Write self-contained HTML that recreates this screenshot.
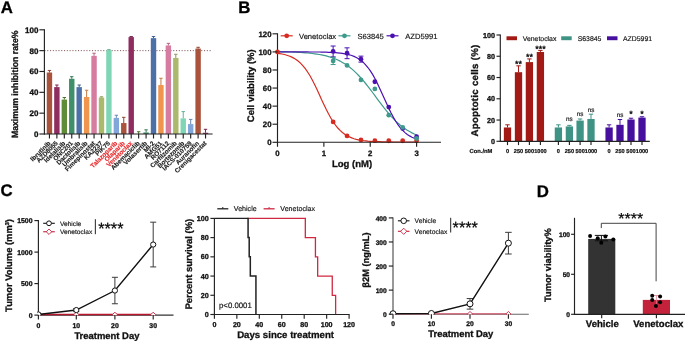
<!DOCTYPE html>
<html lang="en">
<head>
<meta charset="utf-8">
<title>Figure</title>
<style>
html,body{margin:0;padding:0;background:#fff;}
body{width:685px;height:342px;overflow:hidden;}
svg{display:block;font-family:"Liberation Sans",Arial,sans-serif;text-rendering:geometricPrecision;}
</style>
</head>
<body>
<svg width="685" height="342" viewBox="0 0 685 342">
<rect x="0" y="0" width="685" height="342" fill="#ffffff"/>
<text x="0.70" y="12.80" font-size="16.8" font-weight="bold" text-anchor="start" fill="#000" stroke="#000" stroke-width="0.3" >A</text>
<text x="238.30" y="12.60" font-size="16.8" font-weight="bold" text-anchor="start" fill="#000" stroke="#000" stroke-width="0.3" >B</text>
<text x="0.50" y="195.90" font-size="16.8" font-weight="bold" text-anchor="start" fill="#000" stroke="#000" stroke-width="0.3" >C</text>
<text x="536.70" y="196.60" font-size="16.8" font-weight="bold" text-anchor="start" fill="#000" stroke="#000" stroke-width="0.3" >D</text>
<line x1="44.40" y1="50.64" x2="211.00" y2="50.64" stroke="#6e3a3e" stroke-width="0.85" stroke-dasharray="1.1 1.7"/>
<rect x="46.75" y="72.52" width="5.40" height="61.48" fill="#A9523C" />
<line x1="49.45" y1="70.44" x2="49.45" y2="72.52" stroke="#8a4331" stroke-width="1.0" />
<line x1="47.75" y1="70.44" x2="51.15" y2="70.44" stroke="#8a4331" stroke-width="1.0" />
<line x1="49.45" y1="134.00" x2="49.45" y2="138.50" stroke="#222" stroke-width="1.15" />
<text transform="translate(50.95 143.70) rotate(-45)" font-size="6.4" font-weight="bold" text-anchor="end" fill="#1a1a1a" stroke="#1a1a1a" stroke-width="0.12" >Ibrutinib</text>
<rect x="54.18" y="87.11" width="5.40" height="46.89" fill="#8F2D60" />
<line x1="56.88" y1="85.03" x2="56.88" y2="87.11" stroke="#75244e" stroke-width="1.0" />
<line x1="55.18" y1="85.03" x2="58.58" y2="85.03" stroke="#75244e" stroke-width="1.0" />
<line x1="56.88" y1="134.00" x2="56.88" y2="138.50" stroke="#222" stroke-width="1.15" />
<text transform="translate(58.38 143.70) rotate(-45)" font-size="6.4" font-weight="bold" text-anchor="end" fill="#1a1a1a" stroke="#1a1a1a" stroke-width="0.12" >AZD8055</text>
<rect x="61.62" y="99.61" width="5.40" height="34.39" fill="#5F8C38" />
<line x1="64.32" y1="97.53" x2="64.32" y2="99.61" stroke="#4d722d" stroke-width="1.0" />
<line x1="62.62" y1="97.53" x2="66.02" y2="97.53" stroke="#4d722d" stroke-width="1.0" />
<line x1="64.32" y1="134.00" x2="64.32" y2="138.50" stroke="#222" stroke-width="1.15" />
<text transform="translate(65.82 143.70) rotate(-45)" font-size="6.4" font-weight="bold" text-anchor="end" fill="#1a1a1a" stroke="#1a1a1a" stroke-width="0.12" >Idelalisib</text>
<rect x="69.05" y="78.77" width="5.40" height="55.23" fill="#3F8F6B" />
<line x1="71.75" y1="76.69" x2="71.75" y2="78.77" stroke="#337557" stroke-width="1.0" />
<line x1="70.05" y1="76.69" x2="73.45" y2="76.69" stroke="#337557" stroke-width="1.0" />
<line x1="71.75" y1="134.00" x2="71.75" y2="138.50" stroke="#222" stroke-width="1.15" />
<text transform="translate(73.25 143.70) rotate(-45)" font-size="6.4" font-weight="bold" text-anchor="end" fill="#1a1a1a" stroke="#1a1a1a" stroke-width="0.12" >ONC201</text>
<rect x="76.48" y="87.11" width="5.40" height="46.89" fill="#4C70A8" />
<line x1="79.18" y1="85.03" x2="79.18" y2="87.11" stroke="#3e5b89" stroke-width="1.0" />
<line x1="77.48" y1="85.03" x2="80.88" y2="85.03" stroke="#3e5b89" stroke-width="1.0" />
<line x1="79.18" y1="134.00" x2="79.18" y2="138.50" stroke="#222" stroke-width="1.15" />
<text transform="translate(80.68 143.70) rotate(-45)" font-size="6.4" font-weight="bold" text-anchor="end" fill="#1a1a1a" stroke="#1a1a1a" stroke-width="0.12" >Dactolisib</text>
<rect x="83.92" y="97.01" width="5.40" height="36.99" fill="#F0954D" />
<line x1="86.62" y1="90.24" x2="86.62" y2="97.01" stroke="#c47a3f" stroke-width="1.0" />
<line x1="84.92" y1="90.24" x2="88.32" y2="90.24" stroke="#c47a3f" stroke-width="1.0" />
<line x1="86.62" y1="134.00" x2="86.62" y2="138.50" stroke="#222" stroke-width="1.15" />
<text transform="translate(88.12 143.70) rotate(-45)" font-size="6.4" font-weight="bold" text-anchor="end" fill="#1a1a1a" stroke="#1a1a1a" stroke-width="0.12" >Umbralisib</text>
<rect x="91.35" y="55.85" width="5.40" height="78.15" fill="#D67CA0" />
<line x1="94.05" y1="53.24" x2="94.05" y2="55.85" stroke="#af6583" stroke-width="1.0" />
<line x1="92.35" y1="53.24" x2="95.75" y2="53.24" stroke="#af6583" stroke-width="1.0" />
<line x1="94.05" y1="134.00" x2="94.05" y2="138.50" stroke="#222" stroke-width="1.15" />
<text transform="translate(95.55 143.70) rotate(-45)" font-size="6.4" font-weight="bold" text-anchor="end" fill="#1a1a1a" stroke="#1a1a1a" stroke-width="0.12" >Fimepinostat</text>
<rect x="98.78" y="97.53" width="5.40" height="36.47" fill="#ABB96C" />
<line x1="101.48" y1="96.80" x2="101.48" y2="97.53" stroke="#8c9758" stroke-width="1.0" />
<line x1="99.78" y1="96.80" x2="103.18" y2="96.80" stroke="#8c9758" stroke-width="1.0" />
<line x1="101.48" y1="134.00" x2="101.48" y2="138.50" stroke="#222" stroke-width="1.15" />
<text transform="translate(102.98 143.70) rotate(-45)" font-size="6.4" font-weight="bold" text-anchor="end" fill="#1a1a1a" stroke="#1a1a1a" stroke-width="0.12" >KA2237</text>
<rect x="106.21" y="50.12" width="5.40" height="83.88" fill="#7FD6B6" />
<line x1="108.91" y1="49.60" x2="108.91" y2="50.12" stroke="#68af95" stroke-width="1.0" />
<line x1="107.21" y1="49.60" x2="110.61" y2="49.60" stroke="#68af95" stroke-width="1.0" />
<line x1="108.91" y1="134.00" x2="108.91" y2="138.50" stroke="#222" stroke-width="1.15" />
<text transform="translate(110.41 143.70) rotate(-45)" font-size="6.4" font-weight="bold" text-anchor="end" fill="#1a1a1a" stroke="#1a1a1a" stroke-width="0.12" >PIK75</text>
<rect x="113.65" y="117.85" width="5.40" height="16.15" fill="#80A6DA" />
<line x1="116.35" y1="115.24" x2="116.35" y2="117.85" stroke="#6888b2" stroke-width="1.0" />
<line x1="114.65" y1="115.24" x2="118.05" y2="115.24" stroke="#6888b2" stroke-width="1.0" />
<line x1="116.35" y1="134.00" x2="116.35" y2="138.50" stroke="#222" stroke-width="1.15" />
<text transform="translate(117.85 143.70) rotate(-45)" font-size="6.4" font-weight="bold" text-anchor="end" fill="#E8282B" stroke="#E8282B" stroke-width="0.12" >Talazoparib</text>
<rect x="121.08" y="123.06" width="5.40" height="10.94" fill="#A9523C" />
<line x1="123.78" y1="117.33" x2="123.78" y2="123.06" stroke="#8a4331" stroke-width="1.0" />
<line x1="122.08" y1="117.33" x2="125.48" y2="117.33" stroke="#8a4331" stroke-width="1.0" />
<line x1="123.78" y1="134.00" x2="123.78" y2="138.50" stroke="#222" stroke-width="1.15" />
<text transform="translate(125.28 143.70) rotate(-45)" font-size="6.4" font-weight="bold" text-anchor="end" fill="#E8282B" stroke="#E8282B" stroke-width="0.12" >Olaparib</text>
<rect x="128.51" y="37.09" width="5.40" height="96.91" fill="#8F2D60" />
<line x1="131.21" y1="36.57" x2="131.21" y2="37.09" stroke="#75244e" stroke-width="1.0" />
<line x1="129.51" y1="36.57" x2="132.91" y2="36.57" stroke="#75244e" stroke-width="1.0" />
<line x1="131.21" y1="134.00" x2="131.21" y2="138.50" stroke="#222" stroke-width="1.15" />
<text transform="translate(132.71 143.70) rotate(-45)" font-size="6.4" font-weight="bold" text-anchor="end" fill="#E8282B" stroke="#E8282B" stroke-width="0.12" >Venetoclax</text>
<line x1="138.65" y1="131.71" x2="138.65" y2="134.00" stroke="#4d722d" stroke-width="1.0" />
<line x1="136.95" y1="131.71" x2="140.35" y2="131.71" stroke="#4d722d" stroke-width="1.0" />
<line x1="138.65" y1="134.00" x2="138.65" y2="138.50" stroke="#222" stroke-width="1.15" />
<text transform="translate(140.15 143.70) rotate(-45)" font-size="6.4" font-weight="bold" text-anchor="end" fill="#1a1a1a" stroke="#1a1a1a" stroke-width="0.12" >Abemaciclib</text>
<rect x="143.38" y="132.44" width="5.40" height="1.56" fill="#3F8F6B" />
<line x1="146.08" y1="129.83" x2="146.08" y2="132.44" stroke="#337557" stroke-width="1.0" />
<line x1="144.38" y1="129.83" x2="147.78" y2="129.83" stroke="#337557" stroke-width="1.0" />
<line x1="146.08" y1="134.00" x2="146.08" y2="138.50" stroke="#222" stroke-width="1.15" />
<text transform="translate(147.58 143.70) rotate(-45)" font-size="6.4" font-weight="bold" text-anchor="end" fill="#1a1a1a" stroke="#1a1a1a" stroke-width="0.12" >Volasertib</text>
<rect x="150.81" y="38.14" width="5.40" height="95.86" fill="#4C70A8" />
<line x1="153.51" y1="36.57" x2="153.51" y2="38.14" stroke="#3e5b89" stroke-width="1.0" />
<line x1="151.81" y1="36.57" x2="155.21" y2="36.57" stroke="#3e5b89" stroke-width="1.0" />
<line x1="153.51" y1="134.00" x2="153.51" y2="138.50" stroke="#222" stroke-width="1.15" />
<text transform="translate(155.01 143.70) rotate(-45)" font-size="6.4" font-weight="bold" text-anchor="end" fill="#1a1a1a" stroke="#1a1a1a" stroke-width="0.12" >MI-2</text>
<rect x="158.25" y="85.03" width="5.40" height="48.97" fill="#F0954D" />
<line x1="160.94" y1="78.25" x2="160.94" y2="85.03" stroke="#c47a3f" stroke-width="1.0" />
<line x1="159.25" y1="78.25" x2="162.64" y2="78.25" stroke="#c47a3f" stroke-width="1.0" />
<line x1="160.94" y1="134.00" x2="160.94" y2="138.50" stroke="#222" stroke-width="1.15" />
<text transform="translate(162.44 143.70) rotate(-45)" font-size="6.4" font-weight="bold" text-anchor="end" fill="#1a1a1a" stroke="#1a1a1a" stroke-width="0.12" >AMG51</text>
<rect x="165.68" y="45.43" width="5.40" height="88.57" fill="#D67CA0" />
<line x1="168.38" y1="43.35" x2="168.38" y2="45.43" stroke="#af6583" stroke-width="1.0" />
<line x1="166.68" y1="43.35" x2="170.08" y2="43.35" stroke="#af6583" stroke-width="1.0" />
<line x1="168.38" y1="134.00" x2="168.38" y2="138.50" stroke="#222" stroke-width="1.15" />
<text transform="translate(169.88 143.70) rotate(-45)" font-size="6.4" font-weight="bold" text-anchor="end" fill="#1a1a1a" stroke="#1a1a1a" stroke-width="0.12" >RO7112</text>
<rect x="173.11" y="57.93" width="5.40" height="76.07" fill="#ABB96C" />
<line x1="175.81" y1="54.29" x2="175.81" y2="57.93" stroke="#8c9758" stroke-width="1.0" />
<line x1="174.11" y1="54.29" x2="177.51" y2="54.29" stroke="#8c9758" stroke-width="1.0" />
<line x1="175.81" y1="134.00" x2="175.81" y2="138.50" stroke="#222" stroke-width="1.15" />
<text transform="translate(177.31 143.70) rotate(-45)" font-size="6.4" font-weight="bold" text-anchor="end" fill="#1a1a1a" stroke="#1a1a1a" stroke-width="0.12" >Carfilzomib</text>
<rect x="180.54" y="118.37" width="5.40" height="15.63" fill="#7FD6B6" />
<line x1="183.24" y1="111.60" x2="183.24" y2="118.37" stroke="#68af95" stroke-width="1.0" />
<line x1="181.54" y1="111.60" x2="184.94" y2="111.60" stroke="#68af95" stroke-width="1.0" />
<line x1="183.24" y1="134.00" x2="183.24" y2="138.50" stroke="#222" stroke-width="1.15" />
<text transform="translate(184.74 143.70) rotate(-45)" font-size="6.4" font-weight="bold" text-anchor="end" fill="#1a1a1a" stroke="#1a1a1a" stroke-width="0.12" >Bortezomib</text>
<rect x="187.98" y="124.10" width="5.40" height="9.90" fill="#80A6DA" />
<line x1="190.68" y1="119.41" x2="190.68" y2="124.10" stroke="#6888b2" stroke-width="1.0" />
<line x1="188.98" y1="119.41" x2="192.38" y2="119.41" stroke="#6888b2" stroke-width="1.0" />
<line x1="190.68" y1="134.00" x2="190.68" y2="138.50" stroke="#222" stroke-width="1.15" />
<text transform="translate(192.18 143.70) rotate(-45)" font-size="6.4" font-weight="bold" text-anchor="end" fill="#1a1a1a" stroke="#1a1a1a" stroke-width="0.12" >IACS-010759</text>
<rect x="195.41" y="48.56" width="5.40" height="85.44" fill="#A9523C" />
<line x1="198.11" y1="47.31" x2="198.11" y2="48.56" stroke="#8a4331" stroke-width="1.0" />
<line x1="196.41" y1="47.31" x2="199.81" y2="47.31" stroke="#8a4331" stroke-width="1.0" />
<line x1="198.11" y1="134.00" x2="198.11" y2="138.50" stroke="#222" stroke-width="1.15" />
<text transform="translate(199.61 143.70) rotate(-45)" font-size="6.4" font-weight="bold" text-anchor="end" fill="#1a1a1a" stroke="#1a1a1a" stroke-width="0.12" >Auranofin</text>
<rect x="202.84" y="132.75" width="5.40" height="1.25" fill="#8F2D60" />
<line x1="205.54" y1="129.31" x2="205.54" y2="132.75" stroke="#75244e" stroke-width="1.0" />
<line x1="203.84" y1="129.31" x2="207.24" y2="129.31" stroke="#75244e" stroke-width="1.0" />
<line x1="205.54" y1="134.00" x2="205.54" y2="138.50" stroke="#222" stroke-width="1.15" />
<text transform="translate(207.04 143.70) rotate(-45)" font-size="6.4" font-weight="bold" text-anchor="end" fill="#1a1a1a" stroke="#1a1a1a" stroke-width="0.12" >Crenigacestat</text>
<line x1="44.40" y1="29.30" x2="44.40" y2="134.50" stroke="#222" stroke-width="1.15" />
<line x1="43.90" y1="134.00" x2="212.60" y2="134.00" stroke="#222" stroke-width="1.15" />
<line x1="39.40" y1="134.00" x2="44.40" y2="134.00" stroke="#222" stroke-width="1.15" />
<text x="38.40" y="137.00" font-size="8.0" font-weight="bold" text-anchor="end" fill="#111" stroke="#111" stroke-width="0.3" >0</text>
<line x1="39.40" y1="113.16" x2="44.40" y2="113.16" stroke="#222" stroke-width="1.15" />
<text x="38.40" y="116.16" font-size="8.0" font-weight="bold" text-anchor="end" fill="#111" stroke="#111" stroke-width="0.3" >20</text>
<line x1="39.40" y1="92.32" x2="44.40" y2="92.32" stroke="#222" stroke-width="1.15" />
<text x="38.40" y="95.32" font-size="8.0" font-weight="bold" text-anchor="end" fill="#111" stroke="#111" stroke-width="0.3" >40</text>
<line x1="39.40" y1="71.48" x2="44.40" y2="71.48" stroke="#222" stroke-width="1.15" />
<text x="38.40" y="74.48" font-size="8.0" font-weight="bold" text-anchor="end" fill="#111" stroke="#111" stroke-width="0.3" >60</text>
<line x1="39.40" y1="50.64" x2="44.40" y2="50.64" stroke="#222" stroke-width="1.15" />
<text x="38.40" y="53.64" font-size="8.0" font-weight="bold" text-anchor="end" fill="#111" stroke="#111" stroke-width="0.3" >80</text>
<line x1="39.40" y1="29.80" x2="44.40" y2="29.80" stroke="#222" stroke-width="1.15" />
<text x="38.40" y="32.80" font-size="8.0" font-weight="bold" text-anchor="end" fill="#111" stroke="#111" stroke-width="0.3" >100</text>
<text transform="translate(18.20 84.30) rotate(-90) scale(0.955 1)" font-size="9.1" font-weight="bold" text-anchor="middle" fill="#111" stroke="#111" stroke-width="0.3" >Maximum inhibition rate%</text>
<polyline points="277.5,53.3 279.8,53.6 282.1,54.0 284.5,54.5 286.8,55.2 289.1,56.0 291.4,56.9 293.7,58.1 296.0,59.6 298.4,61.3 300.7,63.4 303.0,65.9 305.3,68.7 307.6,72.0 310.0,75.8 312.3,80.0 314.6,84.5 316.9,89.3 319.2,94.3 321.5,99.4 323.9,104.4 326.2,109.3 328.5,113.8 330.8,118.0 333.1,121.7 335.5,125.1 337.8,128.0 340.1,130.4 342.4,132.5 344.7,134.3 347.1,135.7 349.4,136.9 351.7,137.9 354.0,138.7 356.3,139.4 358.6,139.9 361.0,140.3 363.3,140.7 365.6,140.9 367.9,141.2 370.2,141.3 372.6,141.5 374.9,141.6 377.2,141.7 379.5,141.7 381.8,141.8 384.1,141.8 386.5,141.9 388.8,141.9 391.1,141.9 393.4,142.0 395.7,142.0 398.1,142.0 400.4,142.0 402.7,142.0 405.0,142.0 407.3,142.0 409.6,142.0 412.0,142.0 414.3,142.0 416.6,142.0" fill="none" stroke="#D62B20" stroke-width="1.2"/>
<polyline points="277.5,51.7 279.8,51.7 282.1,51.8 284.5,51.8 286.8,51.9 289.1,52.0 291.4,52.0 293.7,52.1 296.0,52.2 298.4,52.3 300.7,52.5 303.0,52.6 305.3,52.8 307.6,53.0 310.0,53.2 312.3,53.5 314.6,53.8 316.9,54.1 319.2,54.5 321.5,54.9 323.9,55.4 326.2,55.9 328.5,56.6 330.8,57.3 333.1,58.1 335.5,59.0 337.8,60.0 340.1,61.1 342.4,62.4 344.7,63.8 347.1,65.3 349.4,67.0 351.7,68.9 354.0,70.9 356.3,73.1 358.6,75.5 361.0,78.0 363.3,80.7 365.6,83.5 367.9,86.4 370.2,89.4 372.6,92.5 374.9,95.6 377.2,98.8 379.5,101.9 381.8,104.9 384.1,107.9 386.5,110.8 388.8,113.6 391.1,116.3 393.4,118.7 395.7,121.1 398.1,123.2 400.4,125.2 402.7,127.1 405.0,128.7 407.3,130.3 409.6,131.6 412.0,132.9 414.3,134.0 416.6,135.0" fill="none" stroke="#3E9A8C" stroke-width="1.2"/>
<polyline points="277.5,51.9 279.8,51.9 282.1,51.9 284.5,51.9 286.8,51.9 289.1,51.9 291.4,51.9 293.7,51.9 296.0,51.9 298.4,51.9 300.7,51.9 303.0,51.9 305.3,51.9 307.6,51.9 310.0,52.0 312.3,52.0 314.6,52.0 316.9,52.0 319.2,52.0 321.5,52.1 323.9,52.1 326.2,52.2 328.5,52.3 330.8,52.4 333.1,52.5 335.5,52.6 337.8,52.8 340.1,53.1 342.4,53.4 344.7,53.8 347.1,54.2 349.4,54.8 351.7,55.5 354.0,56.4 356.3,57.5 358.6,58.8 361.0,60.5 363.3,62.4 365.6,64.8 367.9,67.5 370.2,70.7 372.6,74.4 374.9,78.5 377.2,83.0 379.5,87.9 381.8,92.9 384.1,98.1 386.5,103.3 388.8,108.3 391.1,113.0 393.4,117.4 395.7,121.3 398.1,124.8 400.4,127.8 402.7,130.4 405.0,132.6 407.3,134.4 409.6,135.9 412.0,137.2 414.3,138.2 416.6,139.0" fill="none" stroke="#4B10B0" stroke-width="1.2"/>
<circle cx="333.14" cy="121.96" r="2.4" fill="#D62B20"/>
<circle cx="347.05" cy="135.97" r="2.4" fill="#D62B20"/>
<circle cx="360.96" cy="139.95" r="2.4" fill="#D62B20"/>
<circle cx="374.87" cy="140.67" r="2.4" fill="#D62B20"/>
<circle cx="388.78" cy="140.76" r="2.4" fill="#D62B20"/>
<circle cx="402.69" cy="140.76" r="2.4" fill="#D62B20"/>
<circle cx="416.60" cy="140.76" r="2.4" fill="#D62B20"/>
<line x1="277.50" y1="33.32" x2="277.50" y2="142.80" stroke="#222" stroke-width="1.15" />
<line x1="277.00" y1="142.30" x2="441.00" y2="142.30" stroke="#222" stroke-width="1.1" />
<line x1="333.14" y1="46.02" x2="333.14" y2="56.87" stroke="#4B10B0" stroke-width="1.0" />
<line x1="330.64" y1="46.02" x2="335.64" y2="46.02" stroke="#4B10B0" stroke-width="1.0" />
<line x1="330.64" y1="56.87" x2="335.64" y2="56.87" stroke="#4B10B0" stroke-width="1.0" />
<line x1="347.05" y1="47.83" x2="347.05" y2="58.68" stroke="#4B10B0" stroke-width="1.0" />
<line x1="344.55" y1="47.83" x2="349.55" y2="47.83" stroke="#4B10B0" stroke-width="1.0" />
<line x1="344.55" y1="58.68" x2="349.55" y2="58.68" stroke="#4B10B0" stroke-width="1.0" />
<line x1="360.96" y1="56.15" x2="360.96" y2="62.12" stroke="#4B10B0" stroke-width="1.0" />
<line x1="358.46" y1="56.15" x2="363.46" y2="56.15" stroke="#4B10B0" stroke-width="1.0" />
<line x1="358.46" y1="62.12" x2="363.46" y2="62.12" stroke="#4B10B0" stroke-width="1.0" />
<line x1="333.14" y1="57.32" x2="333.14" y2="64.56" stroke="#3E9A8C" stroke-width="1.0" />
<line x1="330.64" y1="57.32" x2="335.64" y2="57.32" stroke="#3E9A8C" stroke-width="1.0" />
<line x1="330.64" y1="64.56" x2="335.64" y2="64.56" stroke="#3E9A8C" stroke-width="1.0" />
<circle cx="333.14" cy="60.94" r="2.4" fill="#3E9A8C"/>
<circle cx="333.14" cy="51.45" r="2.4" fill="#4B10B0"/>
<circle cx="347.05" cy="65.46" r="2.4" fill="#3E9A8C"/>
<circle cx="347.05" cy="53.26" r="2.4" fill="#4B10B0"/>
<circle cx="360.96" cy="79.92" r="2.4" fill="#3E9A8C"/>
<circle cx="360.96" cy="59.13" r="2.4" fill="#4B10B0"/>
<circle cx="374.87" cy="81.73" r="2.4" fill="#4B10B0"/>
<circle cx="374.87" cy="88.96" r="2.4" fill="#3E9A8C"/>
<circle cx="388.78" cy="107.04" r="2.4" fill="#4B10B0"/>
<circle cx="388.78" cy="115.18" r="2.4" fill="#3E9A8C"/>
<circle cx="402.69" cy="128.56" r="2.4" fill="#4B10B0"/>
<circle cx="402.69" cy="127.38" r="2.4" fill="#3E9A8C"/>
<circle cx="416.60" cy="136.70" r="2.4" fill="#4B10B0"/>
<circle cx="416.60" cy="138.50" r="2.4" fill="#3E9A8C"/>
<circle cx="277.50" cy="51.90" r="2.4" fill="#D62B20"/>
<line x1="272.50" y1="142.30" x2="277.50" y2="142.30" stroke="#222" stroke-width="1.15" />
<text x="271.50" y="145.10" font-size="7.8" font-weight="bold" text-anchor="end" fill="#111" stroke="#111" stroke-width="0.3" >0</text>
<line x1="272.50" y1="124.22" x2="277.50" y2="124.22" stroke="#222" stroke-width="1.15" />
<text x="271.50" y="127.02" font-size="7.8" font-weight="bold" text-anchor="end" fill="#111" stroke="#111" stroke-width="0.3" >20</text>
<line x1="272.50" y1="106.14" x2="277.50" y2="106.14" stroke="#222" stroke-width="1.15" />
<text x="271.50" y="108.94" font-size="7.8" font-weight="bold" text-anchor="end" fill="#111" stroke="#111" stroke-width="0.3" >40</text>
<line x1="272.50" y1="88.06" x2="277.50" y2="88.06" stroke="#222" stroke-width="1.15" />
<text x="271.50" y="90.86" font-size="7.8" font-weight="bold" text-anchor="end" fill="#111" stroke="#111" stroke-width="0.3" >60</text>
<line x1="272.50" y1="69.98" x2="277.50" y2="69.98" stroke="#222" stroke-width="1.15" />
<text x="271.50" y="72.78" font-size="7.8" font-weight="bold" text-anchor="end" fill="#111" stroke="#111" stroke-width="0.3" >80</text>
<line x1="272.50" y1="51.90" x2="277.50" y2="51.90" stroke="#222" stroke-width="1.15" />
<text x="271.50" y="54.70" font-size="7.8" font-weight="bold" text-anchor="end" fill="#111" stroke="#111" stroke-width="0.3" >100</text>
<line x1="272.50" y1="33.82" x2="277.50" y2="33.82" stroke="#222" stroke-width="1.15" />
<text x="271.50" y="36.62" font-size="7.8" font-weight="bold" text-anchor="end" fill="#111" stroke="#111" stroke-width="0.3" >120</text>
<line x1="277.50" y1="142.30" x2="277.50" y2="146.80" stroke="#222" stroke-width="1.15" />
<text x="277.50" y="155.60" font-size="7.8" font-weight="bold" text-anchor="middle" fill="#111" stroke="#111" stroke-width="0.3" >0</text>
<line x1="323.87" y1="142.30" x2="323.87" y2="146.80" stroke="#222" stroke-width="1.15" />
<text x="323.87" y="155.60" font-size="7.8" font-weight="bold" text-anchor="middle" fill="#111" stroke="#111" stroke-width="0.3" >1</text>
<line x1="370.23" y1="142.30" x2="370.23" y2="146.80" stroke="#222" stroke-width="1.15" />
<text x="370.23" y="155.60" font-size="7.8" font-weight="bold" text-anchor="middle" fill="#111" stroke="#111" stroke-width="0.3" >2</text>
<line x1="416.60" y1="142.30" x2="416.60" y2="146.80" stroke="#222" stroke-width="1.15" />
<text x="416.60" y="155.60" font-size="7.8" font-weight="bold" text-anchor="middle" fill="#111" stroke="#111" stroke-width="0.3" >3</text>
<text transform="translate(254.20 85.75) rotate(-90)" font-size="9.5" font-weight="bold" text-anchor="middle" fill="#111" stroke="#111" stroke-width="0.3" >Cell viability (%)</text>
<text x="352.00" y="166.80" font-size="9.5" font-weight="bold" text-anchor="middle" fill="#111" stroke="#111" stroke-width="0.3" >Log (nM)</text>
<line x1="280.70" y1="35.80" x2="292.70" y2="35.80" stroke="#D62B20" stroke-width="1.2" />
<circle cx="286.70" cy="35.80" r="2.4" fill="#D62B20"/>
<text x="299.00" y="38.50" font-size="7.6" font-weight="normal" text-anchor="start" fill="#111" stroke="#111" stroke-width="0.15" >Venetoclax</text>
<line x1="338.50" y1="35.80" x2="350.50" y2="35.80" stroke="#3E9A8C" stroke-width="1.2" />
<circle cx="344.50" cy="35.80" r="2.4" fill="#3E9A8C"/>
<text x="357.50" y="38.50" font-size="7.6" font-weight="normal" text-anchor="start" fill="#111" stroke="#111" stroke-width="0.15" >S63845</text>
<line x1="386.50" y1="35.80" x2="398.50" y2="35.80" stroke="#4B10B0" stroke-width="1.2" />
<circle cx="392.50" cy="35.80" r="2.4" fill="#4B10B0"/>
<text x="405.30" y="38.50" font-size="7.6" font-weight="normal" text-anchor="start" fill="#111" stroke="#111" stroke-width="0.15" >AZD5991</text>
<rect x="503.85" y="127.48" width="7.30" height="13.82" fill="#A31A14" />
<line x1="507.50" y1="124.82" x2="507.50" y2="127.48" stroke="#A31A14" stroke-width="1.0" />
<line x1="505.30" y1="124.82" x2="509.70" y2="124.82" stroke="#A31A14" stroke-width="1.0" />
<line x1="507.50" y1="141.30" x2="507.50" y2="145.10" stroke="#222" stroke-width="1.15" />
<text x="507.50" y="152.50" font-size="5.6" font-weight="bold" text-anchor="middle" fill="#111" stroke="#111" stroke-width="0.2" >0</text>
<rect x="514.85" y="72.20" width="7.30" height="69.10" fill="#A31A14" />
<line x1="518.50" y1="65.83" x2="518.50" y2="72.20" stroke="#A31A14" stroke-width="1.0" />
<line x1="516.30" y1="65.83" x2="520.70" y2="65.83" stroke="#A31A14" stroke-width="1.0" />
<line x1="518.50" y1="141.30" x2="518.50" y2="145.10" stroke="#222" stroke-width="1.15" />
<text x="518.50" y="152.50" font-size="5.6" font-weight="bold" text-anchor="middle" fill="#111" stroke="#111" stroke-width="0.2" >250</text>
<text x="518.50" y="67.23" font-size="9.0" font-weight="normal" text-anchor="middle" fill="#000" stroke="#000" stroke-width="0.3" >**</text>
<rect x="525.75" y="62.11" width="7.30" height="79.19" fill="#A31A14" />
<line x1="529.40" y1="58.92" x2="529.40" y2="62.11" stroke="#A31A14" stroke-width="1.0" />
<line x1="527.20" y1="58.92" x2="531.60" y2="58.92" stroke="#A31A14" stroke-width="1.0" />
<line x1="529.40" y1="141.30" x2="529.40" y2="145.10" stroke="#222" stroke-width="1.15" />
<text x="529.40" y="152.50" font-size="5.6" font-weight="bold" text-anchor="middle" fill="#111" stroke="#111" stroke-width="0.2" >500</text>
<text x="529.40" y="60.32" font-size="9.0" font-weight="normal" text-anchor="middle" fill="#000" stroke="#000" stroke-width="0.3" >**</text>
<rect x="536.75" y="52.01" width="7.30" height="89.29" fill="#A31A14" />
<line x1="540.40" y1="50.41" x2="540.40" y2="52.01" stroke="#A31A14" stroke-width="1.0" />
<line x1="538.20" y1="50.41" x2="542.60" y2="50.41" stroke="#A31A14" stroke-width="1.0" />
<line x1="540.40" y1="141.30" x2="540.40" y2="145.10" stroke="#222" stroke-width="1.15" />
<text x="540.40" y="152.50" font-size="5.6" font-weight="bold" text-anchor="middle" fill="#111" stroke="#111" stroke-width="0.2" >1000</text>
<text x="540.40" y="51.81" font-size="9.0" font-weight="normal" text-anchor="middle" fill="#000" stroke="#000" stroke-width="0.3" >***</text>
<rect x="554.75" y="127.48" width="7.30" height="13.82" fill="#3E9385" />
<line x1="558.40" y1="124.82" x2="558.40" y2="127.48" stroke="#3E9385" stroke-width="1.0" />
<line x1="556.20" y1="124.82" x2="560.60" y2="124.82" stroke="#3E9385" stroke-width="1.0" />
<line x1="558.40" y1="141.30" x2="558.40" y2="145.10" stroke="#222" stroke-width="1.15" />
<text x="558.40" y="152.50" font-size="5.6" font-weight="bold" text-anchor="middle" fill="#111" stroke="#111" stroke-width="0.2" >0</text>
<rect x="565.75" y="126.42" width="7.30" height="14.88" fill="#3E9385" />
<line x1="569.40" y1="125.36" x2="569.40" y2="126.42" stroke="#3E9385" stroke-width="1.0" />
<line x1="567.20" y1="125.36" x2="571.60" y2="125.36" stroke="#3E9385" stroke-width="1.0" />
<line x1="569.40" y1="141.30" x2="569.40" y2="145.10" stroke="#222" stroke-width="1.15" />
<text x="569.40" y="152.50" font-size="5.6" font-weight="bold" text-anchor="middle" fill="#111" stroke="#111" stroke-width="0.2" >250</text>
<text x="569.40" y="121.16" font-size="6.3" font-weight="normal" text-anchor="middle" fill="#111" stroke="#111" stroke-width="0.15" >ns</text>
<rect x="576.45" y="120.57" width="7.30" height="20.73" fill="#3E9385" />
<line x1="580.10" y1="118.98" x2="580.10" y2="120.57" stroke="#3E9385" stroke-width="1.0" />
<line x1="577.90" y1="118.98" x2="582.30" y2="118.98" stroke="#3E9385" stroke-width="1.0" />
<line x1="580.10" y1="141.30" x2="580.10" y2="145.10" stroke="#222" stroke-width="1.15" />
<text x="580.10" y="152.50" font-size="5.6" font-weight="bold" text-anchor="middle" fill="#111" stroke="#111" stroke-width="0.2" >500</text>
<text x="580.10" y="116.18" font-size="6.3" font-weight="normal" text-anchor="middle" fill="#111" stroke="#111" stroke-width="0.15" >ns</text>
<rect x="587.35" y="118.98" width="7.30" height="22.32" fill="#3E9385" />
<line x1="591.00" y1="114.19" x2="591.00" y2="118.98" stroke="#3E9385" stroke-width="1.0" />
<line x1="588.80" y1="114.19" x2="593.20" y2="114.19" stroke="#3E9385" stroke-width="1.0" />
<line x1="591.00" y1="141.30" x2="591.00" y2="145.10" stroke="#222" stroke-width="1.15" />
<text x="591.00" y="152.50" font-size="5.6" font-weight="bold" text-anchor="middle" fill="#111" stroke="#111" stroke-width="0.2" >1000</text>
<text x="591.00" y="111.59" font-size="6.3" font-weight="normal" text-anchor="middle" fill="#111" stroke="#111" stroke-width="0.15" >ns</text>
<rect x="605.45" y="127.48" width="7.30" height="13.82" fill="#470F9E" />
<line x1="609.10" y1="124.82" x2="609.10" y2="127.48" stroke="#470F9E" stroke-width="1.0" />
<line x1="606.90" y1="124.82" x2="611.30" y2="124.82" stroke="#470F9E" stroke-width="1.0" />
<line x1="609.10" y1="141.30" x2="609.10" y2="145.10" stroke="#222" stroke-width="1.15" />
<text x="609.10" y="152.50" font-size="5.6" font-weight="bold" text-anchor="middle" fill="#111" stroke="#111" stroke-width="0.2" >0</text>
<rect x="616.35" y="124.82" width="7.30" height="16.48" fill="#470F9E" />
<line x1="620.00" y1="119.51" x2="620.00" y2="124.82" stroke="#470F9E" stroke-width="1.0" />
<line x1="617.80" y1="119.51" x2="622.20" y2="119.51" stroke="#470F9E" stroke-width="1.0" />
<line x1="620.00" y1="141.30" x2="620.00" y2="145.10" stroke="#222" stroke-width="1.15" />
<text x="620.00" y="152.50" font-size="5.6" font-weight="bold" text-anchor="middle" fill="#111" stroke="#111" stroke-width="0.2" >250</text>
<text x="620.00" y="116.71" font-size="6.3" font-weight="normal" text-anchor="middle" fill="#111" stroke="#111" stroke-width="0.15" >ns</text>
<rect x="627.35" y="119.51" width="7.30" height="21.79" fill="#470F9E" />
<line x1="631.00" y1="118.23" x2="631.00" y2="119.51" stroke="#470F9E" stroke-width="1.0" />
<line x1="628.80" y1="118.23" x2="633.20" y2="118.23" stroke="#470F9E" stroke-width="1.0" />
<line x1="631.00" y1="141.30" x2="631.00" y2="145.10" stroke="#222" stroke-width="1.15" />
<text x="631.00" y="152.50" font-size="5.6" font-weight="bold" text-anchor="middle" fill="#111" stroke="#111" stroke-width="0.2" >500</text>
<text x="631.00" y="117.43" font-size="9.0" font-weight="normal" text-anchor="middle" fill="#000" stroke="#000" stroke-width="0.3" >*</text>
<rect x="638.35" y="117.60" width="7.30" height="23.70" fill="#470F9E" />
<line x1="642.00" y1="116.74" x2="642.00" y2="117.60" stroke="#470F9E" stroke-width="1.0" />
<line x1="639.80" y1="116.74" x2="644.20" y2="116.74" stroke="#470F9E" stroke-width="1.0" />
<line x1="642.00" y1="141.30" x2="642.00" y2="145.10" stroke="#222" stroke-width="1.15" />
<text x="642.00" y="152.50" font-size="5.6" font-weight="bold" text-anchor="middle" fill="#111" stroke="#111" stroke-width="0.2" >1000</text>
<text x="642.00" y="116.54" font-size="9.0" font-weight="normal" text-anchor="middle" fill="#000" stroke="#000" stroke-width="0.3" >*</text>
<line x1="500.30" y1="34.50" x2="500.30" y2="141.80" stroke="#222" stroke-width="1.15" />
<line x1="499.80" y1="141.30" x2="649.80" y2="141.30" stroke="#222" stroke-width="1.15" />
<line x1="496.50" y1="141.30" x2="500.30" y2="141.30" stroke="#222" stroke-width="1.15" />
<text x="495.10" y="143.90" font-size="7.2" font-weight="bold" text-anchor="end" fill="#111" stroke="#111" stroke-width="0.3" >0</text>
<line x1="496.50" y1="120.04" x2="500.30" y2="120.04" stroke="#222" stroke-width="1.15" />
<text x="495.10" y="122.64" font-size="7.2" font-weight="bold" text-anchor="end" fill="#111" stroke="#111" stroke-width="0.3" >20</text>
<line x1="496.50" y1="98.78" x2="500.30" y2="98.78" stroke="#222" stroke-width="1.15" />
<text x="495.10" y="101.38" font-size="7.2" font-weight="bold" text-anchor="end" fill="#111" stroke="#111" stroke-width="0.3" >40</text>
<line x1="496.50" y1="77.52" x2="500.30" y2="77.52" stroke="#222" stroke-width="1.15" />
<text x="495.10" y="80.12" font-size="7.2" font-weight="bold" text-anchor="end" fill="#111" stroke="#111" stroke-width="0.3" >60</text>
<line x1="496.50" y1="56.26" x2="500.30" y2="56.26" stroke="#222" stroke-width="1.15" />
<text x="495.10" y="58.86" font-size="7.2" font-weight="bold" text-anchor="end" fill="#111" stroke="#111" stroke-width="0.3" >80</text>
<line x1="496.50" y1="35.00" x2="500.30" y2="35.00" stroke="#222" stroke-width="1.15" />
<text x="495.10" y="37.60" font-size="7.2" font-weight="bold" text-anchor="end" fill="#111" stroke="#111" stroke-width="0.3" >100</text>
<text transform="translate(478.00 90.65) rotate(-90)" font-size="9.7" font-weight="bold" text-anchor="middle" fill="#111" stroke="#111" stroke-width="0.3" textLength="91.80" lengthAdjust="spacing" >Apoptotic cells (%)</text>
<text x="469.50" y="152.50" font-size="5.8" font-weight="bold" text-anchor="start" fill="#111" stroke="#111" stroke-width="0.2" >Con./nM</text>
<rect x="506.50" y="36.30" width="10.50" height="3.90" fill="#A31A14" />
<text x="522.70" y="40.80" font-size="6.9" font-weight="normal" text-anchor="start" fill="#111" stroke="#111" stroke-width="0.15" >Venetoclax</text>
<rect x="561.20" y="36.30" width="10.50" height="3.90" fill="#3E9385" />
<text x="577.70" y="40.80" font-size="6.9" font-weight="normal" text-anchor="start" fill="#111" stroke="#111" stroke-width="0.15" >S63845</text>
<rect x="607.00" y="36.30" width="10.50" height="3.90" fill="#470F9E" />
<text x="623.00" y="40.80" font-size="6.9" font-weight="normal" text-anchor="start" fill="#111" stroke="#111" stroke-width="0.15" >AZD5991</text>
<line x1="38.40" y1="220.10" x2="38.40" y2="315.60" stroke="#222" stroke-width="1.15" />
<line x1="37.90" y1="315.10" x2="173.50" y2="315.10" stroke="#333" stroke-width="1.15" />
<clipPath id="clip1"><rect x="37.20" y="200.60" width="147.10" height="114.95"/></clipPath>
<g clip-path="url(#clip1)">
<polyline points="38.40,314.66 76.30,314.66 114.90,314.66 153.20,314.66" fill="none" stroke="#B8162F" stroke-width="1.6"/>
<path d="M35.90,314.66 L38.40,312.16 L40.90,314.66 L38.40,317.16 Z" fill="#fff" stroke="#C8203C" stroke-width="0.9"/>
<path d="M73.80,314.66 L76.30,312.16 L78.80,314.66 L76.30,317.16 Z" fill="#fff" stroke="#C8203C" stroke-width="0.9"/>
<path d="M112.40,314.66 L114.90,312.16 L117.40,314.66 L114.90,317.16 Z" fill="#fff" stroke="#C8203C" stroke-width="0.9"/>
<path d="M150.70,314.66 L153.20,312.16 L155.70,314.66 L153.20,317.16 Z" fill="#fff" stroke="#C8203C" stroke-width="0.9"/>
<line x1="76.30" y1="308.49" x2="76.30" y2="311.64" stroke="#3a3a3a" stroke-width="1.0" />
<line x1="73.30" y1="308.49" x2="79.30" y2="308.49" stroke="#3a3a3a" stroke-width="1.0" />
<line x1="73.30" y1="311.64" x2="79.30" y2="311.64" stroke="#3a3a3a" stroke-width="1.0" />
<line x1="114.90" y1="277.30" x2="114.90" y2="303.76" stroke="#3a3a3a" stroke-width="1.0" />
<line x1="111.90" y1="277.30" x2="117.90" y2="277.30" stroke="#3a3a3a" stroke-width="1.0" />
<line x1="111.90" y1="303.76" x2="117.90" y2="303.76" stroke="#3a3a3a" stroke-width="1.0" />
<line x1="153.20" y1="222.18" x2="153.20" y2="266.91" stroke="#3a3a3a" stroke-width="1.0" />
<line x1="150.20" y1="222.18" x2="156.20" y2="222.18" stroke="#3a3a3a" stroke-width="1.0" />
<line x1="150.20" y1="266.91" x2="156.20" y2="266.91" stroke="#3a3a3a" stroke-width="1.0" />
<polyline points="38.40,314.47 76.30,310.06 114.90,290.53 153.20,244.54" fill="none" stroke="#111" stroke-width="1.4"/>
<circle cx="38.40" cy="314.47" r="2.6" fill="#fff" stroke="#111" stroke-width="1.0"/>
<circle cx="76.30" cy="310.06" r="2.6" fill="#fff" stroke="#111" stroke-width="1.0"/>
<circle cx="114.90" cy="290.53" r="2.6" fill="#fff" stroke="#111" stroke-width="1.0"/>
<circle cx="153.20" cy="244.54" r="2.6" fill="#fff" stroke="#111" stroke-width="1.0"/>
</g>
<line x1="34.40" y1="315.10" x2="38.40" y2="315.10" stroke="#222" stroke-width="1.15" />
<text x="32.50" y="317.70" font-size="6.9" font-weight="bold" text-anchor="end" fill="#111" stroke="#111" stroke-width="0.3" >0</text>
<line x1="34.40" y1="283.60" x2="38.40" y2="283.60" stroke="#222" stroke-width="1.15" />
<text x="32.50" y="286.20" font-size="6.9" font-weight="bold" text-anchor="end" fill="#111" stroke="#111" stroke-width="0.3" >500</text>
<line x1="34.40" y1="252.10" x2="38.40" y2="252.10" stroke="#222" stroke-width="1.15" />
<text x="32.50" y="254.70" font-size="6.9" font-weight="bold" text-anchor="end" fill="#111" stroke="#111" stroke-width="0.3" >1000</text>
<line x1="34.40" y1="220.60" x2="38.40" y2="220.60" stroke="#222" stroke-width="1.15" />
<text x="32.50" y="223.20" font-size="6.9" font-weight="bold" text-anchor="end" fill="#111" stroke="#111" stroke-width="0.3" >1500</text>
<line x1="38.40" y1="315.10" x2="38.40" y2="319.40" stroke="#222" stroke-width="1.15" />
<text x="38.40" y="327.90" font-size="6.9" font-weight="bold" text-anchor="middle" fill="#111" stroke="#111" stroke-width="0.3" >0</text>
<line x1="76.30" y1="315.10" x2="76.30" y2="319.40" stroke="#222" stroke-width="1.15" />
<text x="76.30" y="327.90" font-size="6.9" font-weight="bold" text-anchor="middle" fill="#111" stroke="#111" stroke-width="0.3" >10</text>
<line x1="114.90" y1="315.10" x2="114.90" y2="319.40" stroke="#222" stroke-width="1.15" />
<text x="114.90" y="327.90" font-size="6.9" font-weight="bold" text-anchor="middle" fill="#111" stroke="#111" stroke-width="0.3" >20</text>
<line x1="153.20" y1="315.10" x2="153.20" y2="319.40" stroke="#222" stroke-width="1.15" />
<text x="153.20" y="327.90" font-size="6.9" font-weight="bold" text-anchor="middle" fill="#111" stroke="#111" stroke-width="0.3" >30</text>
<text transform="translate(12.30 265.45) rotate(-90)" font-size="9.4" font-weight="bold" text-anchor="middle" fill="#111" stroke="#111" stroke-width="0.3" >Tumor Volume (mm<tspan font-size="5.6" dy="-3.2">3</tspan><tspan dy="3.2">)</tspan></text>
<text x="106.90" y="338.50" font-size="9.45" font-weight="bold" text-anchor="middle" fill="#111" stroke="#111" stroke-width="0.3" >Treatment Day</text>
<line x1="43.20" y1="223.30" x2="54.80" y2="223.30" stroke="#111" stroke-width="1.1" />
<circle cx="49.00" cy="223.30" r="2.4" fill="#fff" stroke="#111" stroke-width="1.0"/>
<text x="60.00" y="225.60" font-size="6.6" font-weight="normal" text-anchor="start" fill="#111" stroke="#111" stroke-width="0.15" >Vehicle</text>
<line x1="43.20" y1="231.75" x2="54.80" y2="231.75" stroke="#C8203C" stroke-width="1.1" />
<path d="M46.30,231.75 L49.00,229.05 L51.70,231.75 L49.00,234.45 Z" fill="#fff" stroke="#C8203C" stroke-width="0.9"/>
<text x="60.00" y="234.05" font-size="6.6" font-weight="normal" text-anchor="start" fill="#111" stroke="#111" stroke-width="0.15" >Venetoclax</text>
<line x1="95.35" y1="219.20" x2="95.35" y2="234.20" stroke="#222" stroke-width="1.0" />
<text x="98.20" y="234.20" font-size="16.3" font-weight="normal" text-anchor="start" fill="#000" stroke="#000" stroke-width="0.2" >****</text>
<line x1="393.00" y1="217.40" x2="393.00" y2="314.70" stroke="#777" stroke-width="1.5" />
<line x1="392.50" y1="314.20" x2="528.80" y2="314.20" stroke="#666" stroke-width="1.15" />
<clipPath id="clip2"><rect x="387.00" y="197.90" width="147.80" height="116.75"/></clipPath>
<g clip-path="url(#clip2)">
<polyline points="393.00,313.96 431.40,313.96 470.00,313.96 508.40,313.96" fill="none" stroke="#D4506A" stroke-width="1.25"/>
<path d="M390.50,313.96 L393.00,311.46 L395.50,313.96 L393.00,316.46 Z" fill="#fff" stroke="#C8203C" stroke-width="0.9"/>
<path d="M428.90,313.96 L431.40,311.46 L433.90,313.96 L431.40,316.46 Z" fill="#fff" stroke="#C8203C" stroke-width="0.9"/>
<path d="M467.50,313.96 L470.00,311.46 L472.50,313.96 L470.00,316.46 Z" fill="#fff" stroke="#C8203C" stroke-width="0.9"/>
<path d="M505.90,313.96 L508.40,311.46 L510.90,313.96 L508.40,316.46 Z" fill="#fff" stroke="#C8203C" stroke-width="0.9"/>
<line x1="470.00" y1="298.55" x2="470.00" y2="309.14" stroke="#3a3a3a" stroke-width="1.0" />
<line x1="466.70" y1="298.55" x2="473.30" y2="298.55" stroke="#3a3a3a" stroke-width="1.0" />
<line x1="466.70" y1="309.14" x2="473.30" y2="309.14" stroke="#3a3a3a" stroke-width="1.0" />
<line x1="508.40" y1="232.34" x2="508.40" y2="254.01" stroke="#3a3a3a" stroke-width="1.0" />
<line x1="505.10" y1="232.34" x2="511.70" y2="232.34" stroke="#3a3a3a" stroke-width="1.0" />
<line x1="505.10" y1="254.01" x2="511.70" y2="254.01" stroke="#3a3a3a" stroke-width="1.0" />
<polyline points="393.00,313.72 431.40,313.48 470.00,303.85 508.40,243.18" fill="none" stroke="#111" stroke-width="1.4"/>
<circle cx="393.00" cy="313.72" r="3.0" fill="#fff" stroke="#111" stroke-width="1.0"/>
<circle cx="431.40" cy="313.48" r="3.0" fill="#fff" stroke="#111" stroke-width="1.0"/>
<circle cx="470.00" cy="303.85" r="3.0" fill="#fff" stroke="#111" stroke-width="1.0"/>
<circle cx="508.40" cy="243.18" r="3.0" fill="#fff" stroke="#111" stroke-width="1.0"/>
</g>
<line x1="388.80" y1="314.20" x2="393.00" y2="314.20" stroke="#222" stroke-width="1.15" />
<text x="386.80" y="316.80" font-size="6.7" font-weight="bold" text-anchor="end" fill="#111" stroke="#111" stroke-width="0.3" >0</text>
<line x1="388.80" y1="290.12" x2="393.00" y2="290.12" stroke="#222" stroke-width="1.15" />
<text x="386.80" y="292.73" font-size="6.7" font-weight="bold" text-anchor="end" fill="#111" stroke="#111" stroke-width="0.3" >100</text>
<line x1="388.80" y1="266.05" x2="393.00" y2="266.05" stroke="#222" stroke-width="1.15" />
<text x="386.80" y="268.65" font-size="6.7" font-weight="bold" text-anchor="end" fill="#111" stroke="#111" stroke-width="0.3" >200</text>
<line x1="388.80" y1="241.97" x2="393.00" y2="241.97" stroke="#222" stroke-width="1.15" />
<text x="386.80" y="244.57" font-size="6.7" font-weight="bold" text-anchor="end" fill="#111" stroke="#111" stroke-width="0.3" >300</text>
<line x1="388.80" y1="217.90" x2="393.00" y2="217.90" stroke="#222" stroke-width="1.15" />
<text x="386.80" y="220.50" font-size="6.7" font-weight="bold" text-anchor="end" fill="#111" stroke="#111" stroke-width="0.3" >400</text>
<line x1="393.00" y1="314.20" x2="393.00" y2="318.70" stroke="#222" stroke-width="1.15" />
<text x="393.00" y="325.50" font-size="6.7" font-weight="bold" text-anchor="middle" fill="#111" stroke="#111" stroke-width="0.3" >0</text>
<line x1="431.40" y1="314.20" x2="431.40" y2="318.70" stroke="#222" stroke-width="1.15" />
<text x="431.40" y="325.50" font-size="6.7" font-weight="bold" text-anchor="middle" fill="#111" stroke="#111" stroke-width="0.3" >10</text>
<line x1="470.00" y1="314.20" x2="470.00" y2="318.70" stroke="#222" stroke-width="1.15" />
<text x="470.00" y="325.50" font-size="6.7" font-weight="bold" text-anchor="middle" fill="#111" stroke="#111" stroke-width="0.3" >20</text>
<line x1="508.40" y1="314.20" x2="508.40" y2="318.70" stroke="#222" stroke-width="1.15" />
<text x="508.40" y="325.50" font-size="6.7" font-weight="bold" text-anchor="middle" fill="#111" stroke="#111" stroke-width="0.3" >30</text>
<text transform="translate(369.00 260.05) rotate(-90)" font-size="9.3" font-weight="bold" text-anchor="middle" fill="#111" stroke="#111" stroke-width="0.3" >β2M (ng/mL)</text>
<text x="460.80" y="336.80" font-size="9.45" font-weight="bold" text-anchor="middle" fill="#111" stroke="#111" stroke-width="0.3" >Treatment Day</text>
<line x1="397.90" y1="220.80" x2="409.50" y2="220.80" stroke="#111" stroke-width="1.1" />
<circle cx="403.70" cy="220.80" r="2.8" fill="#fff" stroke="#111" stroke-width="1.0"/>
<text x="414.60" y="223.10" font-size="6.7" font-weight="normal" text-anchor="start" fill="#111" stroke="#111" stroke-width="0.15" >Vehicle</text>
<line x1="397.90" y1="231.30" x2="409.50" y2="231.30" stroke="#C8203C" stroke-width="1.1" />
<path d="M400.60,231.30 L403.70,228.20 L406.80,231.30 L403.70,234.40 Z" fill="#fff" stroke="#C8203C" stroke-width="0.9"/>
<text x="414.60" y="233.60" font-size="6.7" font-weight="normal" text-anchor="start" fill="#111" stroke="#111" stroke-width="0.15" >Venetoclax</text>
<line x1="450.70" y1="217.80" x2="450.70" y2="232.50" stroke="#222" stroke-width="1.0" />
<text x="452.60" y="232.50" font-size="16.3" font-weight="normal" text-anchor="start" fill="#000" stroke="#000" stroke-width="0.2" >****</text>
<path d="M248.08,218.40 L305.32,218.40 L305.32,237.62 L315.43,237.62 L315.43,256.84 L317.67,256.84 L317.67,276.06 L332.26,276.06 L332.26,295.28 L335.63,295.28 L335.63,314.50" fill="none" stroke="#D02840" stroke-width="1.3"/>
<path d="M214.40,218.40 L248.08,218.40" fill="none" stroke="#222" stroke-width="1.1"/>
<path d="M247.51,218.40 L248.08,218.40 L248.08,237.62 L249.20,237.62 L249.20,256.84 L250.32,256.84 L250.32,276.06 L255.93,276.06 L255.93,314.50" fill="none" stroke="#222" stroke-width="1.5"/>
<line x1="214.40" y1="217.90" x2="214.40" y2="315.00" stroke="#222" stroke-width="1.15" />
<line x1="213.90" y1="314.50" x2="349.60" y2="314.50" stroke="#222" stroke-width="1.15" />
<line x1="210.40" y1="314.50" x2="214.40" y2="314.50" stroke="#222" stroke-width="1.15" />
<text x="208.80" y="317.05" font-size="7.2" font-weight="bold" text-anchor="end" fill="#111" stroke="#111" stroke-width="0.3" >0</text>
<line x1="210.40" y1="295.28" x2="214.40" y2="295.28" stroke="#222" stroke-width="1.15" />
<text x="208.80" y="297.83" font-size="7.2" font-weight="bold" text-anchor="end" fill="#111" stroke="#111" stroke-width="0.3" >20</text>
<line x1="210.40" y1="276.06" x2="214.40" y2="276.06" stroke="#222" stroke-width="1.15" />
<text x="208.80" y="278.61" font-size="7.2" font-weight="bold" text-anchor="end" fill="#111" stroke="#111" stroke-width="0.3" >40</text>
<line x1="210.40" y1="256.84" x2="214.40" y2="256.84" stroke="#222" stroke-width="1.15" />
<text x="208.80" y="259.39" font-size="7.2" font-weight="bold" text-anchor="end" fill="#111" stroke="#111" stroke-width="0.3" >60</text>
<line x1="210.40" y1="237.62" x2="214.40" y2="237.62" stroke="#222" stroke-width="1.15" />
<text x="208.80" y="240.17" font-size="7.2" font-weight="bold" text-anchor="end" fill="#111" stroke="#111" stroke-width="0.3" >80</text>
<line x1="210.40" y1="218.40" x2="214.40" y2="218.40" stroke="#222" stroke-width="1.15" />
<text x="208.80" y="220.95" font-size="7.2" font-weight="bold" text-anchor="end" fill="#111" stroke="#111" stroke-width="0.3" >100</text>
<line x1="214.40" y1="314.50" x2="214.40" y2="318.80" stroke="#222" stroke-width="1.15" />
<text x="214.40" y="326.90" font-size="7.1" font-weight="bold" text-anchor="middle" fill="#111" stroke="#111" stroke-width="0.3" >0</text>
<line x1="236.85" y1="314.50" x2="236.85" y2="318.80" stroke="#222" stroke-width="1.15" />
<text x="236.85" y="326.90" font-size="7.1" font-weight="bold" text-anchor="middle" fill="#111" stroke="#111" stroke-width="0.3" >20</text>
<line x1="259.30" y1="314.50" x2="259.30" y2="318.80" stroke="#222" stroke-width="1.15" />
<text x="259.30" y="326.90" font-size="7.1" font-weight="bold" text-anchor="middle" fill="#111" stroke="#111" stroke-width="0.3" >40</text>
<line x1="281.75" y1="314.50" x2="281.75" y2="318.80" stroke="#222" stroke-width="1.15" />
<text x="281.75" y="326.90" font-size="7.1" font-weight="bold" text-anchor="middle" fill="#111" stroke="#111" stroke-width="0.3" >60</text>
<line x1="304.20" y1="314.50" x2="304.20" y2="318.80" stroke="#222" stroke-width="1.15" />
<text x="304.20" y="326.90" font-size="7.1" font-weight="bold" text-anchor="middle" fill="#111" stroke="#111" stroke-width="0.3" >80</text>
<line x1="326.65" y1="314.50" x2="326.65" y2="318.80" stroke="#222" stroke-width="1.15" />
<text x="326.65" y="326.90" font-size="7.1" font-weight="bold" text-anchor="middle" fill="#111" stroke="#111" stroke-width="0.3" >100</text>
<line x1="349.10" y1="314.50" x2="349.10" y2="318.80" stroke="#222" stroke-width="1.15" />
<text x="349.10" y="326.90" font-size="7.1" font-weight="bold" text-anchor="middle" fill="#111" stroke="#111" stroke-width="0.3" >120</text>
<text transform="translate(192.00 264.15) rotate(-90)" font-size="9.5" font-weight="bold" text-anchor="middle" fill="#111" stroke="#111" stroke-width="0.3" >Percent survival (%)</text>
<text x="285.60" y="337.60" font-size="9.65" font-weight="bold" text-anchor="middle" fill="#111" stroke="#111" stroke-width="0.3" >Days since treatment</text>
<text x="219.00" y="307.50" font-size="7.8" font-weight="normal" text-anchor="start" fill="#111" stroke="#111" stroke-width="0.15" >p&lt;0.0001</text>
<line x1="217.30" y1="208.80" x2="228.30" y2="208.80" stroke="#222" stroke-width="1.3" />
<line x1="222.80" y1="207.00" x2="222.80" y2="208.80" stroke="#222" stroke-width="1.0" />
<text x="233.80" y="211.30" font-size="7.1" font-weight="normal" text-anchor="start" fill="#111" stroke="#111" stroke-width="0.15" >Vehicle</text>
<line x1="263.60" y1="208.80" x2="274.60" y2="208.80" stroke="#D02840" stroke-width="1.3" />
<line x1="269.10" y1="207.00" x2="269.10" y2="208.80" stroke="#D02840" stroke-width="1.0" />
<text x="280.30" y="211.30" font-size="7.1" font-weight="normal" text-anchor="start" fill="#111" stroke="#111" stroke-width="0.15" >Venetoclax</text>
<rect x="588.20" y="238.90" width="27.10" height="75.40" fill="#333" />
<rect x="642.80" y="299.90" width="27.20" height="14.40" fill="#C4223A" />
<line x1="601.40" y1="235.40" x2="601.40" y2="240.80" stroke="#111" stroke-width="1.0" />
<line x1="594.80" y1="235.40" x2="608.00" y2="235.40" stroke="#111" stroke-width="1.0" />
<line x1="594.80" y1="240.80" x2="608.00" y2="240.80" stroke="#111" stroke-width="1.0" />
<line x1="656.40" y1="295.50" x2="656.40" y2="303.90" stroke="#E8808E" stroke-width="0.8" />
<line x1="652.90" y1="295.50" x2="659.90" y2="295.50" stroke="#E8808E" stroke-width="0.8" />
<circle cx="590.10" cy="236.00" r="2.0" fill="#000"/>
<circle cx="597.70" cy="238.30" r="2.0" fill="#000"/>
<circle cx="601.30" cy="242.70" r="2.0" fill="#000"/>
<circle cx="605.40" cy="236.40" r="2.0" fill="#000"/>
<circle cx="613.30" cy="239.40" r="2.0" fill="#000"/>
<circle cx="652.20" cy="295.70" r="2.0" fill="#000"/>
<circle cx="660.10" cy="296.40" r="2.0" fill="#000"/>
<circle cx="652.20" cy="299.90" r="2.0" fill="#000"/>
<circle cx="660.10" cy="302.20" r="2.0" fill="#000"/>
<circle cx="655.90" cy="306.00" r="2.0" fill="#000"/>
<line x1="574.50" y1="217.80" x2="574.50" y2="314.80" stroke="#222" stroke-width="1.15" />
<line x1="574.00" y1="314.30" x2="685.00" y2="314.30" stroke="#222" stroke-width="1.15" />
<line x1="571.10" y1="314.30" x2="574.50" y2="314.30" stroke="#222" stroke-width="1.15" />
<text x="570.10" y="316.70" font-size="6.7" font-weight="bold" text-anchor="end" fill="#111" stroke="#111" stroke-width="0.3" >0</text>
<line x1="571.10" y1="274.30" x2="574.50" y2="274.30" stroke="#222" stroke-width="1.15" />
<text x="570.10" y="276.70" font-size="6.7" font-weight="bold" text-anchor="end" fill="#111" stroke="#111" stroke-width="0.3" >50</text>
<line x1="571.10" y1="234.30" x2="574.50" y2="234.30" stroke="#222" stroke-width="1.15" />
<text x="570.10" y="236.70" font-size="6.7" font-weight="bold" text-anchor="end" fill="#111" stroke="#111" stroke-width="0.3" >100</text>
<line x1="601.70" y1="314.30" x2="601.70" y2="318.30" stroke="#222" stroke-width="1.15" />
<line x1="656.40" y1="314.30" x2="656.40" y2="318.30" stroke="#222" stroke-width="1.15" />
<text x="602.35" y="327.10" font-size="9.6" font-weight="bold" text-anchor="middle" fill="#111" stroke="#111" stroke-width="0.3" >Vehicle</text>
<text x="658.25" y="327.10" font-size="9.6" font-weight="bold" text-anchor="middle" fill="#111" stroke="#111" stroke-width="0.3" >Venetoclax</text>
<text transform="translate(550.80 265.15) rotate(-90)" font-size="9.3" font-weight="bold" text-anchor="middle" fill="#111" stroke="#111" stroke-width="0.3" >Tumor viability%</text>
<path d="M601.3,228.1 L601.3,223.3 L656.1,223.3 L656.1,281.3" fill="none" stroke="#444" stroke-width="1.0"/>
<text x="630.80" y="223.60" font-size="16" font-weight="normal" text-anchor="middle" fill="#000" stroke="#000" stroke-width="0.2" >****</text>
</svg>
</body>
</html>
